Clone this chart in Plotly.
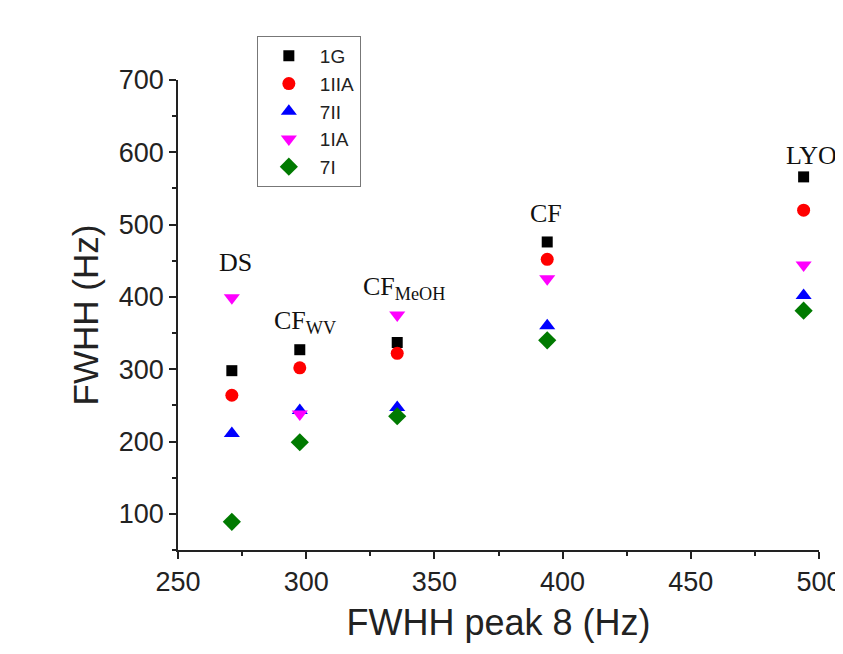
import plotly.graph_objects as go

x_peak8 = [271, 297.5, 335.5, 394, 494]
labels = ["DS", "CF<sub>WV</sub>", "CF<sub>MeOH</sub>", "CF", "LYO"]
label_x = [272.5, 299.5, 338, 393.5, 497]
label_y = [448, 365, 412, 516, 596]

series_names = ["1G", "1IIA", "7II", "1IA", "7I"]
y_1G = [298, 327, 337, 476, 566]
y_1IIA = [264, 302, 322, 452, 520]
y_7II = [211, 243, 247, 360, 402]
y_1IA = [399, 238, 375, 425, 444]
y_7I = [89, 199, 235, 340, 381]

series_values = [y_1G, y_1IIA, y_7II, y_1IA, y_7I]
colors = ["#000000", "#ff0000", "#0000ff", "#ff00ff", "#007a00"]
symbols = ["square", "circle", "triangle-up", "triangle-down", "diamond"]
sizes = [11, 13, 14, 14, 14]

fig = go.Figure()
for name, vals, c, s, sz in zip(series_names, series_values, colors, symbols, sizes):
    fig.add_trace(go.Scatter(x=x_peak8, y=vals, mode="markers", name=name,
                             marker=dict(color=c, symbol=s, size=sz, line=dict(width=0))))

for lx, ly, t in zip(label_x, label_y, labels):
    fig.add_annotation(x=lx, y=ly, text=t, showarrow=False,
                       font=dict(family="Liberation Serif, Times New Roman, serif", size=26, color="#111"))

sans = "Liberation Sans, Arial, sans-serif"
axis_font = dict(family=sans, size=27, color="#222")
fig.update_layout(
    width=835, height=646,
    margin=dict(l=170, r=24, t=72, b=104, autoexpand=False),
    paper_bgcolor="white", plot_bgcolor="white",
    font=dict(family=sans, color="#222"),
    showlegend=True,
    legend=dict(x=0.123, y=1.0936, xanchor="left", yanchor="top",
                bordercolor="#777", borderwidth=1, bgcolor="white",
                font=dict(size=19, family=sans, color="#222"),
                itemwidth=52, tracegroupgap=0),
)
fig.update_xaxes(range=[250, 500], dtick=50, tick0=250, showgrid=False, zeroline=False,
                 showline=True, linecolor="#222", linewidth=1.5, automargin=False,
                 ticks="outside", ticklen=7, tickwidth=1.5, tickcolor="#222",
                 minor=dict(ticks="outside", ticklen=4, dtick=25, tickwidth=1.5, tickcolor="#222"),
                 tickfont=axis_font,
                 title=dict(text="FWHH peak 8 (Hz)", font=dict(size=36, family=sans, color="#222"), standoff=14))
fig.update_yaxes(range=[50, 700], dtick=100, tick0=100, showgrid=False, zeroline=False,
                 showline=True, linecolor="#222", linewidth=1.5, automargin=False,
                 ticks="outside", ticklen=7, tickwidth=1.5, tickcolor="#222",
                 minor=dict(ticks="outside", ticklen=4, dtick=50, tickwidth=1.5, tickcolor="#222"),
                 tickfont=axis_font,
                 title=dict(text="FWHH (Hz)", font=dict(size=35, family=sans, color="#222"), standoff=10))

fig.write_html("out.html")
